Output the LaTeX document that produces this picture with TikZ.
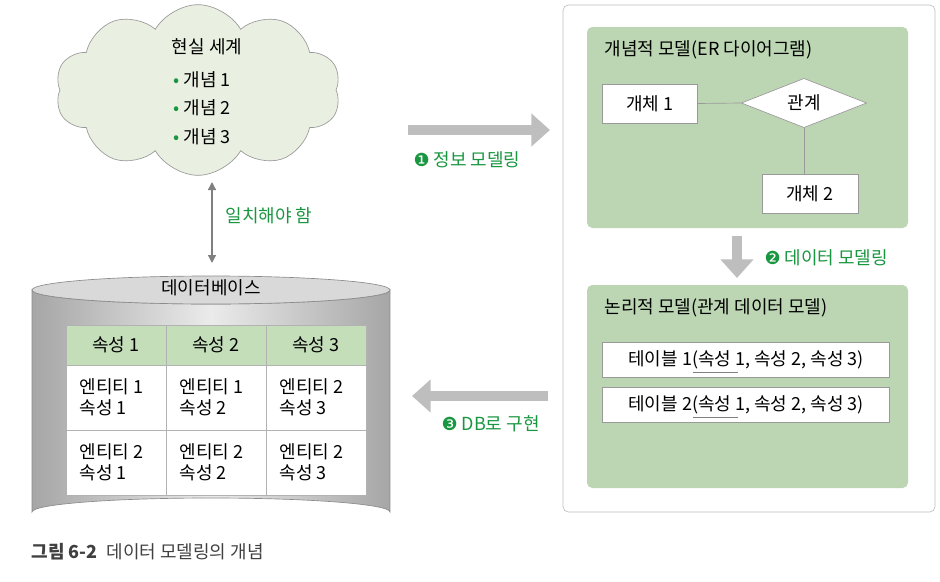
\documentclass[tikz,border=0pt]{standalone}
\usepackage{fontspec}
\setmainfont{Noto Sans CJK KR}
\newfontfamily\symfont{DejaVu Sans}
\usetikzlibrary{shapes.symbols,shapes.geometric,arrows.meta}
\definecolor{mgreen}{RGB}{24,150,64}
\definecolor{boxgreen}{RGB}{188,214,180}
\definecolor{hdgreen}{RGB}{196,222,186}
\definecolor{cloudfill}{RGB}{233,239,225}
\definecolor{bigarrow}{RGB}{190,190,190}
\tikzset{every picture/.style={line width=0.75pt}}
\tikzset{
  txt/.style={inner sep=0.75pt,font=\fontsize{13.5}{16}\selectfont},
  gtxt/.style={txt,text=mgreen},
  wbox/.style={draw=black!40,fill=white,line width=0.5pt},
  fatarrow/.style={draw=bigarrow,line width=7.5pt,-{Triangle[length=14pt,width=24pt]}},
}
\begin{document}
\begin{tikzpicture}[x=0.75pt,y=0.75pt,yscale=-1,xscale=1]
		\path (0,0) rectangle (940,582);
		
		%Shape: Cloud
		\node [cloud, cloud puffs=10, cloud puff arc=120, aspect=1.5, draw=black!40, fill=cloudfill, minimum width=214, minimum height=128, line width=0.5pt] (world) at (198,90) {};
		\draw (207,47) node [txt] (worldt) {현실 세계};
		\draw (172,80) node [txt,anchor=west] (c1) {{\color{mgreen}•} 개념 1};
		\draw (172,108) node [txt,anchor=west] (c2) {{\color{mgreen}•} 개념 2};
		\draw (172,137) node [txt,anchor=west] (c3) {{\color{mgreen}•} 개념 3};
		
		%Shape: Cylinder
		\shade [left color=black!35, right color=black!35, middle color=black!8, draw=black!45, line width=0.5pt] (32,290) -- (32,512) arc[start angle=180,end angle=360,x radius=179,y radius=14] -- (390,290) arc[start angle=0,end angle=180,x radius=179,y radius=14] -- cycle;
		\draw [draw=black!45, fill=black!15, line width=0.5pt] (211,290) ellipse [x radius=179, y radius=14];
		\draw (211,288) node [txt] (db) {데이터베이스};
		\draw [fill=hdgreen, draw=black!30, line width=0.5pt] (66,325) rectangle (366,365);
		\draw [fill=white, draw=black!30, line width=0.5pt] (66,365) rectangle (366,495);
		\foreach \x in {166,266} \draw [draw=black!30, line width=0.5pt] (\x,325) -- (\x,495);
		\draw [draw=black!30, line width=0.5pt] (66,430) -- (366,430);
		\foreach \i/\x in {1/116,2/216,3/316} \draw (\x,345) node [txt] (h\i) {속성 \i};
		\draw (78,397) node [txt,anchor=west,align=left] (r11) {엔티티 1\\속성 1};
		\draw (178,397) node [txt,anchor=west,align=left] (r12) {엔티티 1\\속성 2};
		\draw (278,397) node [txt,anchor=west,align=left] (r13) {엔티티 2\\속성 3};
		\draw (78,462) node [txt,anchor=west,align=left] (r21) {엔티티 2\\속성 1};
		\draw (178,462) node [txt,anchor=west,align=left] (r22) {엔티티 2\\속성 2};
		\draw (278,462) node [txt,anchor=west,align=left] (r23) {엔티티 2\\속성 3};
		
		%match arrow
		\coordinate (mtop) at (212,182);
		\coordinate (mbot) at (212,263);
		\draw [draw=black!50, line width=1pt, {Triangle[length=6pt,width=6pt]}-{Triangle[length=6pt,width=6pt]}] (mtop) -- (mbot);
		\draw (224,216) node [gtxt,anchor=west] (match) {일치해야 함};
		
		%Shape: Panel
		\draw [draw=black!25, fill=white, rounded corners=4, line width=0.5pt] (563,5) rectangle (935,512);
		\draw [draw=none, fill=boxgreen, rounded corners=4] (587,27) rectangle (908,228);
		\draw [draw=none, fill=boxgreen, rounded corners=4] (587,285) rectangle (908,488);
		\draw (603,50) node [txt,anchor=west] (cm) {개념적 모델(ER 다이어그램)};
		\draw (603,308) node [txt,anchor=west] (lm) {논리적 모델(관계 데이터 모델)};
		
		\node [wbox, minimum width=71, minimum height=29] (e1) at (650,103.5) {};
		\draw (e1) node [txt] {개체 1};
		\node [diamond, wbox, aspect=2.6, minimum width=94, minimum height=37] (rel) at (804,103) {};
		\draw (rel) node [txt] {관계};
		\node [wbox, minimum width=72, minimum height=29] (e2) at (810,194) {};
		\draw (e2) node [txt] {개체 2};
		\draw [draw=black!40, line width=0.5pt] (e1.east) -- (rel.west);
		\draw [draw=black!40, line width=0.5pt] (rel.south) -- (rel.south |- e2.north);
		
		\node [wbox, minimum width=215, minimum height=26] (t1) at (746,360) {};
		\draw (t1) node [txt] {테이블 1(속성 1, 속성 2, 속성 3)};
		\node [wbox, minimum width=215, minimum height=26] (t2) at (746,405) {};
		\draw (t2) node [txt] {테이블 2(속성 1, 속성 2, 속성 3)};
		\draw [draw=black!50, line width=0.6pt] (t1.center) ++(-53,12) -- ++(45,0);
		\draw [draw=black!50, line width=0.6pt] (t2.center) ++(-53,12) -- ++(45,0);
		
		%big arrows
		\coordinate (a1s) at (408,130); \coordinate (a1e) at (550,130);
		\draw [fatarrow] (a1s) -- (a1e);
		\draw (412,160) node [gtxt,anchor=west] (l1) {{\symfont ❶} 정보 모델링};
		\coordinate (a2s) at (737,236); \coordinate (a2e) at (737,278);
		\draw [fatarrow] (a2s) -- (a2e);
		\draw (763,258) node [gtxt,anchor=west] (l2) {{\symfont ❷} 데이터 모델링};
		\coordinate (a3s) at (548,396); \coordinate (a3e) at (412,396);
		\draw [fatarrow] (a3s) -- (a3e);
		\draw (440,424) node [gtxt,anchor=west] (l3) {{\symfont ❸} DB로 구현};
		
		\draw (30,552) node [txt,anchor=west,text=black!75] (cap) {\textbf{그림 6-2}\enspace 데이터 모델링의 개념};
	\end{tikzpicture}
\end{document}
